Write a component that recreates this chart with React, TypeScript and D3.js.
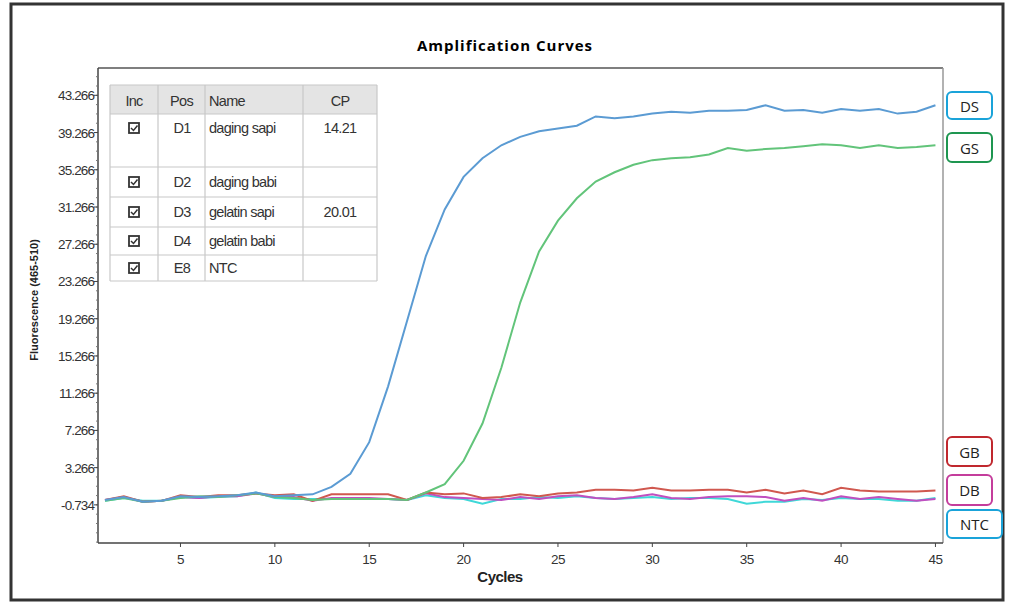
import * as d3 from 'd3';

const cycles = d3.range(1, 46);
const ds = [-0.2, 0.1, -0.4, -0.3, 0.2, 0.1, 0.2, 0.3, 0.6, 0.2, 0.3, 0.4, 1.2, 2.6, 6.0, 12.0, 19.0, 26.0, 31.0, 34.5, 36.5, 37.9, 38.8, 39.4, 39.7, 40.0, 41.0, 40.8, 41.0, 41.3, 41.5, 41.4, 41.6, 41.6, 41.7, 42.2, 41.6, 41.7, 41.4, 41.8, 41.6, 41.8, 41.3, 41.5, 42.2];
const gs = [-0.3, 0.0, -0.4, -0.3, 0.0, 0.2, 0.1, 0.3, 0.5, 0.1, 0.0, -0.2, -0.1, -0.1, -0.1, -0.1, -0.2, 0.6, 1.5, 4.0, 8.0, 14.0, 21.0, 26.5, 29.8, 32.2, 34.0, 35.0, 35.8, 36.3, 36.5, 36.6, 36.9, 37.6, 37.3, 37.5, 37.6, 37.8, 38.0, 37.9, 37.6, 37.9, 37.6, 37.7, 37.9];
const gb = [-0.2, 0.2, -0.4, -0.3, 0.3, 0.1, 0.3, 0.3, 0.5, 0.3, 0.4, -0.3, 0.4, 0.4, 0.4, 0.4, -0.2, 0.6, 0.4, 0.5, 0.0, 0.1, 0.4, 0.2, 0.5, 0.6, 0.9, 0.9, 0.8, 1.1, 0.8, 0.8, 0.9, 0.9, 0.6, 0.9, 0.5, 0.8, 0.4, 1.1, 0.8, 0.7, 0.7, 0.7, 0.8];
const db = [-0.2, 0.1, -0.4, -0.3, 0.1, 0.0, 0.2, 0.2, 0.5, 0.1, 0.1, -0.3, 0.0, 0.0, 0.0, -0.1, -0.2, 0.5, 0.1, 0.0, -0.1, -0.2, 0.1, -0.1, 0.2, 0.3, 0.0, -0.1, 0.1, 0.4, 0.0, -0.1, 0.1, 0.2, 0.2, 0.1, -0.3, 0.0, -0.3, 0.2, -0.1, 0.1, -0.1, -0.3, -0.1];
const ntc = [-0.3, 0.0, -0.3, -0.3, 0.1, 0.0, 0.1, 0.2, 0.6, 0.0, -0.1, -0.1, -0.1, -0.1, -0.1, -0.1, -0.2, 0.3, 0.0, -0.1, -0.6, -0.1, -0.1, 0.1, 0.0, 0.2, 0.0, -0.1, 0.0, 0.1, -0.1, 0.0, 0.0, -0.1, -0.6, -0.4, -0.4, -0.1, -0.2, 0.0, -0.1, -0.1, -0.3, -0.3, 0.0];

const yTicks = [-0.734, 3.266, 7.266, 11.266, 15.266, 19.266, 23.266, 27.266, 31.266, 35.266, 39.266, 43.266];
const xTicks = [5, 10, 15, 20, 25, 30, 35, 40, 45];

const tableHeader = ['Inc', 'Pos', 'Name', 'CP'];
const tablePos = ['D1', 'D2', 'D3', 'D4', 'E8'];
const tableNames = ['daging sapi', 'daging babi', 'gelatin sapi', 'gelatin babi', 'NTC'];
const tableCP = ['14.21', '', '20.01', '', ''];

const series = [
  { key: 'NTC', values: ntc, color: '#3fd8d8' },
  { key: 'DB', values: db, color: '#c04fc0' },
  { key: 'GB', values: gb, color: '#d0584f' },
  { key: 'GS', values: gs, color: '#62c47a' },
  { key: 'DS', values: ds, color: '#5b9bd3' },
];

const labelBoxes = [
  { key: 'DS', y: 92, h: 27, color: '#1aa3d9' },
  { key: 'GS', y: 133, h: 29, color: '#1e9650' },
  { key: 'GB', y: 437, h: 29, color: '#c0282e' },
  { key: 'DB', y: 475, h: 30, color: '#c43d9c' },
  { key: 'NTC', y: 510, h: 28, color: '#1aa3d9' },
];

export default function App() {
  const W = 1011, H = 603;
  const left = 98, right = 943, top = 68, bottom = 543;
  const x = d3.scaleLinear().domain([0.63, 45.4]).range([left, right]);
  const y = d3.scaleLinear().domain([-4.83, 46.2]).range([bottom, top]);
  const line = d3.line<number>().x((_, i) => x(cycles[i])).y((d) => y(d));
  const minor = d3.range(-4.734, 46, 1);

  const colX = [110, 158, 205, 303, 377];
  const rowY = [85, 114, 167, 197, 227, 255, 281];
  const tf = 'Arial, "Liberation Sans", sans-serif';

  return (
    <svg width={W} height={H} style={{ position: 'absolute', left: 0, top: 0 }}>
      <rect x={0} y={0} width={W} height={H} fill="#fff" />
      <rect x={11} y={4} width={992} height={596} fill="none" stroke="#333" strokeWidth={3} />
      <text x={505} y={51} textAnchor="middle" fontFamily='"Open Sans", sans-serif' fontWeight="bold" fontSize={15} letterSpacing={1}>
        Amplification Curves
      </text>
      <line x1={left} x2={right} y1={top} y2={top} stroke="#555" strokeWidth={1.5} />
      <line x1={right} x2={right} y1={top} y2={bottom} stroke="#999" strokeWidth={1.5} />
      <line x1={left} x2={left} y1={top} y2={bottom} stroke="#444" strokeWidth={1.5} />
      <line x1={left} x2={right} y1={bottom} y2={bottom} stroke="#444" strokeWidth={1.5} />
      {minor.map((v) => (
        <line key={v} x1={left - 2} x2={left} y1={y(v)} y2={y(v)} stroke="#777" />
      ))}
      {yTicks.map((v) => (
        <g key={v}>
          <line x1={left - 4} x2={left} y1={y(v)} y2={y(v)} stroke="#444" />
          <text x={left - 4} y={y(v) + 5} textAnchor="end" fontFamily={tf} fontSize={13.5} fill="#333" letterSpacing={-0.9}>
            {v.toFixed(3)}
          </text>
        </g>
      ))}
      {xTicks.map((v) => (
        <g key={v}>
          <line x1={x(v)} x2={x(v)} y1={bottom} y2={bottom + 4} stroke="#444" />
          <text x={x(v)} y={bottom + 21} textAnchor="middle" fontFamily={tf} fontSize={13.5} fill="#333" letterSpacing={-0.5}>{v}</text>
        </g>
      ))}
      <text x={500} y={582} textAnchor="middle" fontFamily={tf} fontWeight="bold" fontSize={15} fill="#222" letterSpacing={-0.5}>Cycles</text>
      <text transform="translate(38,300) rotate(-90)" textAnchor="middle" fontFamily={tf} fontWeight="bold" fontSize={11} fill="#222">
        Fluorescence (465-510)
      </text>
      {series.map((s) => (
        <path key={s.key} d={line(s.values) ?? ''} fill="none" stroke={s.color} strokeWidth={2} />
      ))}
      <rect x={colX[0]} y={rowY[0]} width={colX[4] - colX[0]} height={rowY[1] - rowY[0]} fill="#e4e4e4" />
      {colX.map((cx) => (
        <line key={cx} x1={cx} x2={cx} y1={rowY[0]} y2={rowY[6]} stroke="#c8c8c8" strokeWidth={1.2} />
      ))}
      {rowY.map((ry) => (
        <line key={ry} x1={colX[0]} x2={colX[4]} y1={ry} y2={ry} stroke="#c8c8c8" strokeWidth={1.2} />
      ))}
      {tableHeader.map((h, i) => (
        <text key={h} x={i === 2 ? colX[2] + 4 : (colX[i] + colX[i + 1]) / 2} y={106} textAnchor={i === 2 ? 'start' : 'middle'} fontFamily={tf} fontSize={14.5} fill="#333" letterSpacing={-0.7}>{h}</text>
      ))}
      {tablePos.map((p, i) => {
        const ty = i === 0 ? 133 : (rowY[i + 1] + rowY[i + 2]) / 2 + 5;
        return (
          <g key={p}>
            <rect x={129} y={ty - 10} width={10} height={10} fill="#fff" stroke="#333" strokeWidth={1.8} />
            <path d={`M${131},${ty - 5} l2.5,2.5 l4,-5`} fill="none" stroke="#333" strokeWidth={1.5} />
            <text x={182} y={ty} textAnchor="middle" fontFamily={tf} fontSize={14.5} fill="#333" letterSpacing={-0.7}>{p}</text>
            <text x={209} y={ty} fontFamily={tf} fontSize={14.5} fill="#333" letterSpacing={-0.7}>{tableNames[i]}</text>
            <text x={340} y={ty} textAnchor="middle" fontFamily={tf} fontSize={14.5} fill="#333" letterSpacing={-0.7}>{tableCP[i]}</text>
          </g>
        );
      })}
      {labelBoxes.map((b) => (
        <g key={b.key}>
          <rect x={947} y={b.y} width={b.key === 'NTC' ? 55 : 45} height={b.h} rx={5} fill="#fff" stroke={b.color} strokeWidth={2} />
          <text x={b.key === 'NTC' ? 974.5 : 969.5} y={b.y + b.h / 2 + 6} textAnchor="middle" fontFamily='"Open Sans", sans-serif' fontSize={15} fill="#222">{b.key}</text>
        </g>
      ))}
    </svg>
  );
}
